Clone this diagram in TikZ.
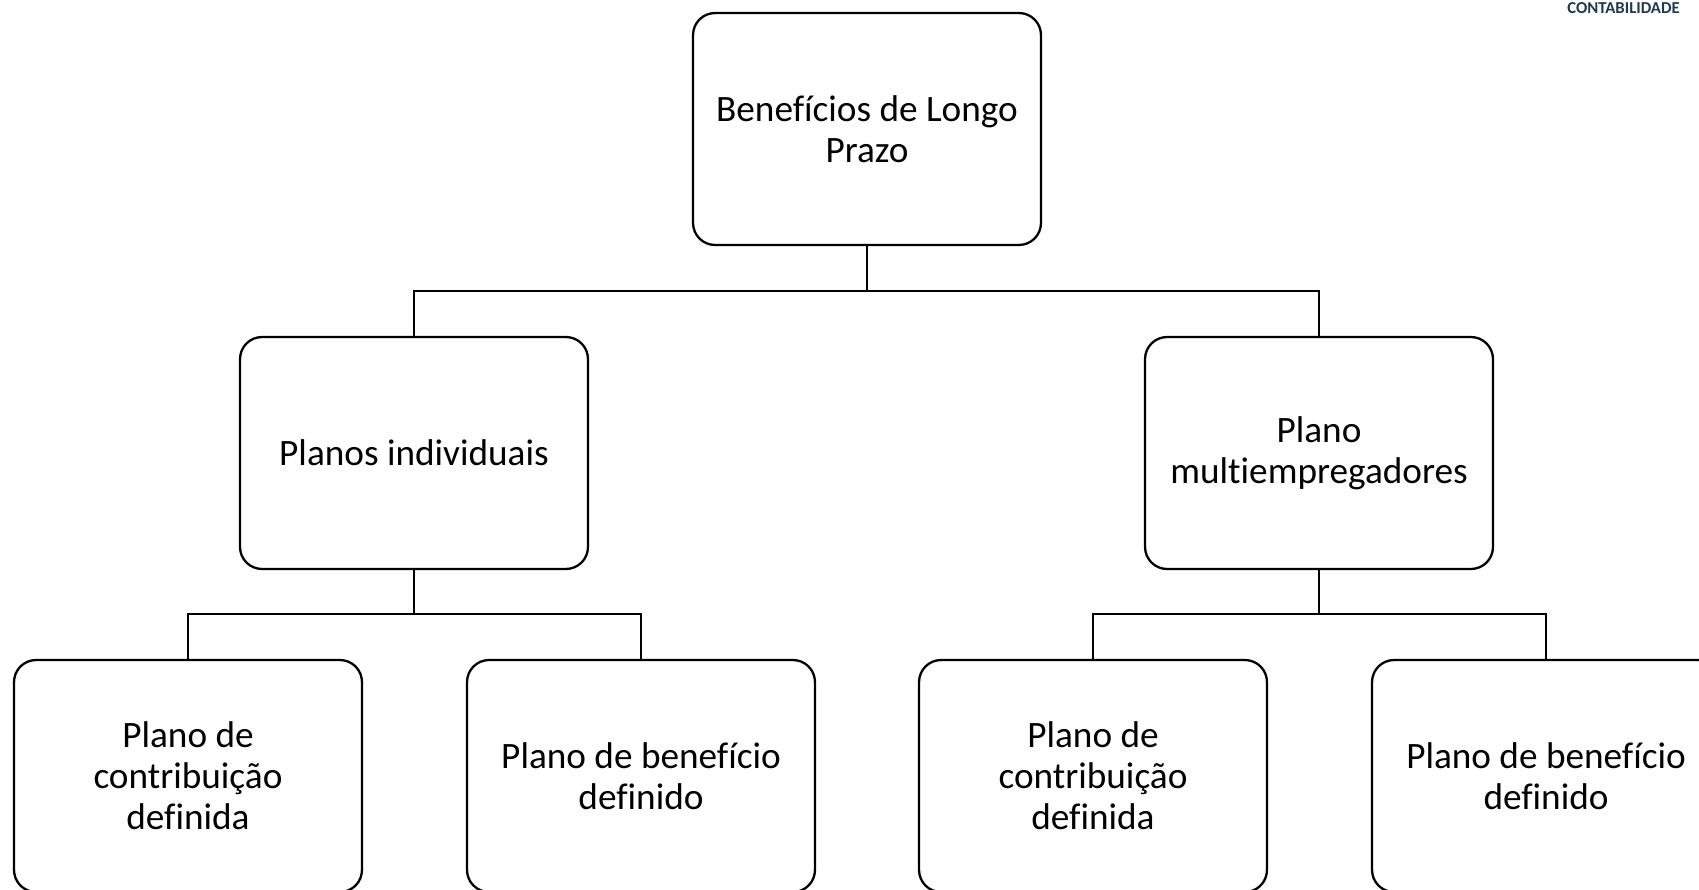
\documentclass[tikz,border=0pt]{standalone}
\usepackage{fontspec}
\setmainfont[Ligatures=NoCommon]{Carlito}
\usepackage{xcolor}
\definecolor{logoblue}{HTML}{1E3A52}
\tikzset{
  caixa/.style={draw, line width=1.3pt, rounded corners=0.44cm, align=center,
    minimum width=6.96cm, minimum height=4.64cm, inner sep=0pt,
    font=\fontsize{21.2}{23.3}\selectfont},
  liga/.style={line width=1.3pt}
}
\begin{document}
\begin{tikzpicture}[x=0.02cm, y=-0.02cm]
  \useasboundingbox (0,0) rectangle (1699,889);
  \clip (0,0) rectangle (1699,889);
  % logo
  \node[anchor=north east, inner sep=0pt, text=logoblue,
    font=\fontsize{9.5}{9.5}\selectfont\bfseries] (logo) at (1680,2) {CONTABILIDADE};
  % caixas
  \node[caixa] (topo) at (867,129) {Benefícios de Longo\\Prazo};
  \node[caixa] (ind) at (414,453) {Planos individuais};
  \node[caixa] (multi) at (1319,453) {Plano\\multiempregadores};
  \node[caixa] (indcd) at (188,776) {Plano de\\contribuição\\definida};
  \node[caixa] (indbd) at (641,776) {Plano de benefício\\definido};
  \node[caixa] (multicd) at (1093,776) {Plano de\\contribuição\\definida};
  \node[caixa] (multibd) at (1546,776) {Plano de benefício\\definido};
  % ligacoes
  \coordinate (j1) at (867,291);
  \coordinate (j2) at (414,614);
  \coordinate (j3) at (1319,614);
  \draw[liga] (topo.south) -- (j1) -| (ind.north);
  \draw[liga] (j1) -| (multi.north);
  \draw[liga] (ind.south) -- (j2) -| (indcd.north);
  \draw[liga] (j2) -| (indbd.north);
  \draw[liga] (multi.south) -- (j3) -| (multicd.north);
  \draw[liga] (j3) -| (multibd.north);
\end{tikzpicture}
\end{document}
